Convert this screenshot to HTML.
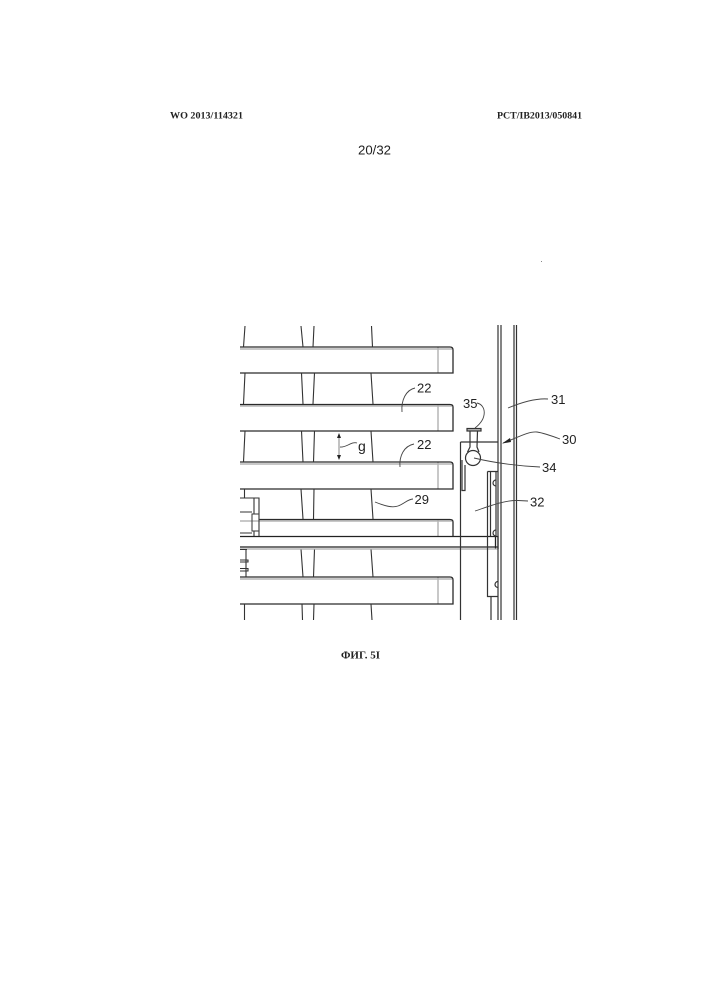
<!DOCTYPE html>
<html>
<head>
<meta charset="utf-8">
<style>
html,body{margin:0;padding:0;background:#fff}
svg{display:block}
.s{font-family:"Liberation Serif",serif;font-weight:bold;font-size:9.5px;fill:#222}
.n{font-family:"Liberation Sans",sans-serif;font-size:13px;fill:#222}
</style>
</head>
<body>
<svg width="707" height="1000" viewBox="0 0 707 1000" xmlns="http://www.w3.org/2000/svg">
<rect width="707" height="1000" fill="#fff"/>
<text class="s" x="170" y="118.500" textLength="73" lengthAdjust="spacingAndGlyphs">WO 2013/114321</text>
<text class="s" x="497" y="118.500" textLength="85" lengthAdjust="spacingAndGlyphs">PCT/IB2013/050841</text>
<text x="358" y="154.500" textLength="33" lengthAdjust="spacingAndGlyphs" style="font-family:'Liberation Sans',sans-serif;font-size:13px;fill:#222">20/32</text>
<text class="s" x="341" y="658.500" textLength="39" lengthAdjust="spacingAndGlyphs" style="font-size:10px">ФИГ. 5I</text>
<rect x="541" y="261" width="1" height="1" fill="#888"/>

<!-- gray second lines and shading -->
<g stroke="#b5b5b5" stroke-width="1.500" fill="none">
<path d="M240 349H452M240 406H452M240 464H452M240 521H452M240 579H452"/>
<path d="M438 347V373M438 404V431M438 462V489M438 519V536M438 577V604"/>
</g>

<!-- bars -->
<g stroke="#2a2a2a" stroke-width="1.300" fill="none">
<path d="M240 347H450Q453 347 453 350V373H240"/>
<path d="M240 404.500H450Q453 404.500 453 407V431H240"/>
<path d="M240 462H450Q453 462 453 465V489H240"/>
<path d="M259 519.500H450Q453 519.500 453 522V536"/>
<path d="M240 577H450Q453 577 453 580V604H240"/>
</g>

<!-- slanted verticals -->
<g stroke="#333" stroke-width="1.100" fill="none">
<path d="M245 326L243.500 347M301 326L303 347M314 326L313 347M371.500 326L372.500 347"/>
<path d="M245 373L243.500 404M301.500 373L303 404M314.500 373L313 404M371 373L373 404"/>
<path d="M245 431L243.500 462M301.500 431L303 462M314.500 431L313.500 462M371 431L373 462"/>
<path d="M244.500 489V498M301 489L303 519M314 489L313.500 519M371 489L373 519"/>
<path d="M246 549V577M301 549L303 577M314.500 549L313.500 577M371 549L373 577"/>
<path d="M244.500 604V620M302 604L302.500 620M314 604L313.500 620M371 604L372 620"/>
</g>

<!-- rail -->
<g stroke="#222" stroke-width="1.300" fill="none">
<path d="M240 536.500H498V549"/>
<path d="M240 547H498"/>
<path d="M495.500 536.500V549"/>
</g>
<path d="M240 549H498" stroke="#aaa" stroke-width="1.200"/>

<!-- left details -->
<g stroke="#333" stroke-width="1.100" fill="none">
<path d="M240 498H259V536M254 498V514M254 531V536"/>
<rect x="252" y="514" width="7" height="17" stroke="#444"/>
<path d="M240 512H252M240 533H252"/>
<path d="M240 549.500H247M240 560H248V562H240M240 568.500H248V571H240"/>
</g>

<!-- right verticals -->
<g stroke="#333" stroke-width="1.200" fill="none">
<path d="M498 325V620M501 325V620M514 325V620M516.500 325V620"/>
<path d="M460.500 442H498M460.500 442V620"/>
<path d="M462 460V490.500H465V465"/>
<path d="M487.500 471.500H498M487.500 471.500V596.500H498M490.500 471.500V536M491 597V620"/>
<path d="M496 471.500V536"/>
<path d="M496 480A3 3 0 0 0 496 486M496 530A3 3 0 0 0 496 536M498 581.500A3 3 0 0 0 498 587.500"/>
</g>

<!-- pin -->
<g stroke="#333" stroke-width="1.200" fill="#fff">
<path d="M470 431L470 447L467.500 452M477.500 431L477 447L479 452" fill="none"/>
<rect x="467" y="428.500" width="14" height="2.500" fill="#bbb"/>
<circle cx="473" cy="458" r="7.500"/>
</g>

<!-- leaders -->
<g stroke="#444" stroke-width="0.900" fill="none">
<path d="M402 412C401 400 406 390 415 388"/>
<path d="M400 467C399 456 404 446 414 444"/>
<path d="M477 403C486 405 488 418 475 428"/>
<path d="M508 408C520 403 535 398 548 399"/>
<path d="M503 443C515 439 528 431 537 432C544 433 552 436 560 439"/>
<path d="M474 458C495 463 520 466 540 467"/>
<path d="M375 502C385 506 392 508 398 506C404 504 408 499 413 499"/>
<path d="M475 511C490 506 505 500 518 500.500L528 501"/>
<path d="M340 447C346 448 352 441 357 443"/>
<path d="M339 436V457" stroke="#777"/>
</g>
<path d="M502 443.500L510 438L511 442Z" fill="#222"/>
<path d="M339 433L337 438H341ZM339 460L337 455H341Z" fill="#222"/>

<!-- labels -->
<text class="n" x="417" y="392.500">22</text>
<text class="n" x="417" y="449">22</text>
<text class="n" x="463" y="408">35</text>
<text class="n" x="551" y="404">31</text>
<text class="n" x="562" y="444">30</text>
<text class="n" x="542" y="472">34</text>
<text class="n" x="414.500" y="504">29</text>
<text class="n" x="530" y="506.500">32</text>
<text x="358" y="451" style="font-family:'Liberation Sans',sans-serif;font-size:14px;fill:#222">g</text>
</svg>
</body>
</html>
